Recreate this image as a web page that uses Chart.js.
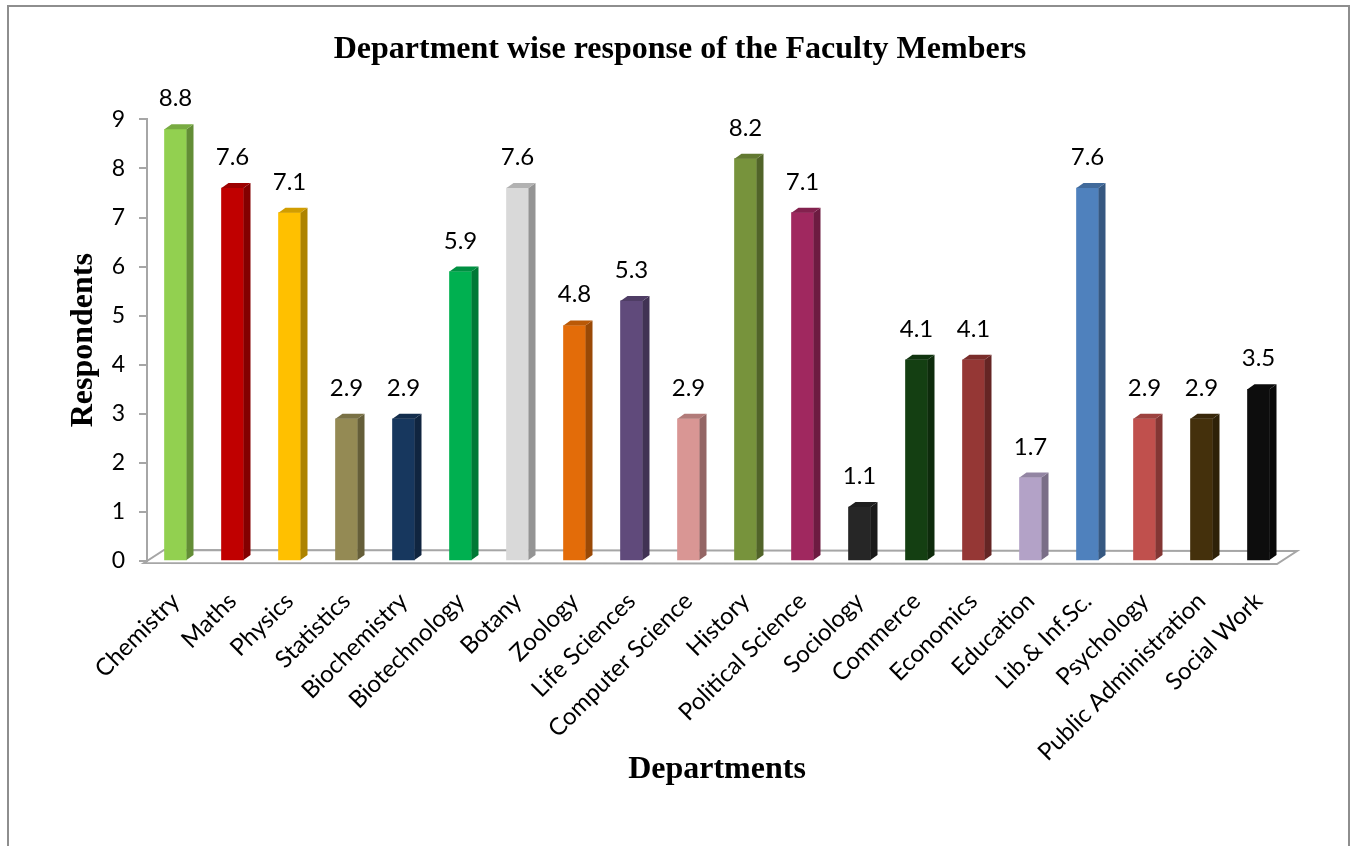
<!DOCTYPE html>
<html>
<head>
<meta charset="utf-8">
<script src="https://cdn.jsdelivr.net/npm/chart.js@4.4.1/dist/chart.umd.min.js"></script>
<style>
  html, body { margin: 0; padding: 0; background: #fff; }
  #wrap { position: relative; width: 1354px; height: 846px; overflow: hidden; }
  #frame { position: absolute; left: 7px; top: 5px; width: 1343px; height: 900px; border: 2px solid #8e8e8e; box-sizing: border-box; }
  canvas { position: absolute; left: 0; top: 0; }
</style>
</head>
<body>
<div id="wrap">
  <div id="frame"></div>
  <canvas id="dept-graph" width="1354" height="846"></canvas>
</div>
<script>
var departments = ['Chemistry', 'Maths', 'Physics', 'Statistics', 'Biochemistry', 'Biotechnology', 'Botany', 'Zoology', 'Life Sciences', 'Computer Science', 'History', 'Political Science', 'Sociology', 'Commerce', 'Economics', 'Education', 'Lib.& Inf.Sc.', 'Psychology', 'Public Administration', 'Social Work'];

var respondents = [8.8, 7.6, 7.1, 2.9, 2.9, 5.9, 7.6, 4.8, 5.3, 2.9, 8.2, 7.1, 1.1, 4.1, 4.1, 1.7, 7.6, 2.9, 2.9, 3.5];

var yTicks = [0, 1, 2, 3, 4, 5, 6, 7, 8, 9];

var barColors = ['#92D050', '#C00000', '#FFC000', '#948A54', '#17375E', '#00B050', '#D9D9D9', '#E36C09', '#604A7B', '#D99694', '#77933C', '#A0285F', '#262626', '#143F12', '#953735', '#B3A2C7', '#4F81BD', '#C0504D', '#44300C', '#0D0D0D'];

function shade(hex, f) {
  var n = parseInt(hex.slice(1), 16);
  var r = Math.round(((n >> 16) & 255) * f);
  var g = Math.round(((n >> 8) & 255) * f);
  var b = Math.round((n & 255) * f);
  return 'rgb(' + r + ',' + g + ',' + b + ')';
}

// floor under the bars (3d look)
var floorPlugin = {
  id: 'floor',
  beforeDatasetsDraw: function (chart) {
    var ctx = chart.ctx;
    var a = chart.chartArea;
    var y0 = chart.scales.y.getPixelForValue(0);
    ctx.save();
    ctx.beginPath();
    ctx.moveTo(a.left - 3, y0 + 2);
    ctx.lineTo(a.right - 10, y0 + 3);
    ctx.lineTo(a.right + 10, y0 - 10);
    ctx.lineTo(a.left + 17, y0 - 11);
    ctx.closePath();
    ctx.strokeStyle = '#a6a6a6';
    ctx.lineWidth = 2;
    ctx.stroke();
    ctx.restore();
  }
};

// side + top faces, and value labels
var barFaces = {
  id: 'barFaces',
  afterDatasetsDraw: function (chart) {
    var ctx = chart.ctx;
    var meta = chart.getDatasetMeta(0);
    var dx = 7, dy = 5;
    ctx.save();
    meta.data.forEach(function (bar, i) {
      var w = bar.width;
      var x1 = bar.x - w / 2, x2 = bar.x + w / 2;
      var top = bar.y, base = bar.base;
      var col = barColors[i];
      // side
      ctx.beginPath();
      ctx.moveTo(x2, top);
      ctx.lineTo(x2 + dx, top - dy);
      ctx.lineTo(x2 + dx, base - dy);
      ctx.lineTo(x2, base);
      ctx.closePath();
      ctx.fillStyle = shade(col, 0.68);
      ctx.fill();
      // top
      ctx.beginPath();
      ctx.moveTo(x1, top);
      ctx.lineTo(x1 + dx, top - dy);
      ctx.lineTo(x2 + dx, top - dy);
      ctx.lineTo(x2, top);
      ctx.closePath();
      ctx.fillStyle = shade(col, 0.82);
      ctx.fill();
      // value
      ctx.fillStyle = '#000';
      ctx.font = '24px Lato';
      ctx.textAlign = 'center';
      ctx.textBaseline = 'alphabetic';
      ctx.fillText(respondents[i].toFixed(1), bar.x, top - 23);
    });
    ctx.restore();
  }
};

var ctx = document.getElementById('dept-graph').getContext('2d');

var chart = new Chart(ctx, {
  type: 'bar',
  data: {
    labels: departments,
    datasets: [{
      label: 'Respondents',
      data: respondents,
      backgroundColor: barColors,
      borderWidth: 0,
      barThickness: 22
    }]
  },
  options: {
    responsive: false,
    animation: false,
    layout: { padding: { left: 73, right: 67, top: 0, bottom: 55 } },
    plugins: {
      legend: { display: false },
      tooltip: { enabled: false },
      title: {
        display: true,
        text: 'Department wise response of the Faculty Members',
        color: '#000',
        font: { family: '"Liberation Serif"', size: 32, weight: 'bold' },
        padding: { top: 31, bottom: 50 }
      }
    },
    scales: {
      x: {
        grid: { display: false },
        border: { display: false },
        ticks: {
          color: '#000',
          font: { family: 'Lato', size: 24 },
          minRotation: 45,
          maxRotation: 45,
          padding: 18,
          autoSkip: false
        },
        title: {
          display: true,
          text: 'Departments',
          color: '#000',
          font: { family: '"Liberation Serif"', size: 32, weight: 'bold' },
          padding: { top: 4, bottom: 2 }
        },
        afterFit: function (scale) { scale.height = 230; }
      },
      y: {
        min: 0,
        max: 9,
        afterBuildTicks: function (scale) {
          scale.ticks = yTicks.map(function (v) { return { value: v }; });
        },
        grid: { drawOnChartArea: false, color: '#a6a6a6', lineWidth: 2, tickLength: 8 },
        border: { color: '#a6a6a6', width: 2 },
        ticks: {
          color: '#000',
          font: { family: 'Lato', size: 23 },
          padding: 14
        },
        title: {
          display: true,
          text: 'Respondents',
          color: '#000',
          font: { family: '"Liberation Serif"', size: 32, weight: 'bold' },
          padding: { top: -8, bottom: 0 }
        },
        afterFit: function (scale) { scale.width = 74; }
      }
    }
  },
  plugins: [floorPlugin, barFaces]
});
</script>
</body>
</html>
